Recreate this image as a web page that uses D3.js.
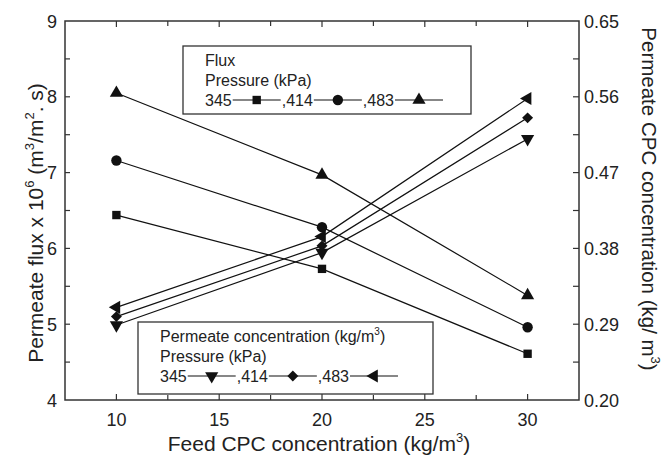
<!DOCTYPE html>
<html><head><meta charset="utf-8">
<script src="https://cdn.jsdelivr.net/npm/d3@7"></script>
<style>body{margin:0;background:#fff}svg{display:block;font-family:"Liberation Sans",Arial,sans-serif}</style>
</head><body><svg id="c" width="666" height="456"></svg>
<script>
const feed = [10, 20, 30];
const pressures = ["345", "414", "483"];
const flux345 = [6.44, 5.73, 4.61];
const flux414 = [7.16, 6.28, 4.96];
const flux483 = [8.05, 6.97, 5.38];
const conc345 = [0.289, 0.375, 0.510];
const conc414 = [0.299, 0.383, 0.535];
const conc483 = [0.310, 0.394, 0.558];
const xTicks = [10, 15, 20, 25, 30];
const yLeftTicks = [4, 5, 6, 7, 8, 9];
const yRightTicks = [0.20, 0.29, 0.38, 0.47, 0.56, 0.65];

const svg = d3.select("#c");
const L = 65, R = 579, T = 21, B = 400;
const x = d3.scaleLinear().domain([7.5, 32.5]).range([L, R]);
const yL = d3.scaleLinear().domain([4, 9]).range([B, T]);
const yR = d3.scaleLinear().domain([0.20, 0.65]).range([B, T]);
const ink = "#111";

// ticks
const g = svg.append("g").attr("stroke", "#333").attr("stroke-width", 1.2);
d3.range(10, 31, 2.5).forEach(v => {
  const len = xTicks.includes(v) ? 6 : 5;
  g.append("line").attr("x1", x(v)).attr("x2", x(v)).attr("y1", B).attr("y2", B - len);
  g.append("line").attr("x1", x(v)).attr("x2", x(v)).attr("y1", T).attr("y2", T + len);
});
d3.range(4.5, 9, 0.5).forEach(v => {
  g.append("line").attr("x1", L).attr("x2", L + 5).attr("y1", yL(v)).attr("y2", yL(v));
});
for (let i = 1; i < 10; i++) {
  const v = 0.20 + i * 0.045;
  g.append("line").attr("x1", R).attr("x2", R - 6).attr("y1", yR(v)).attr("y2", yR(v));
}
svg.append("rect").attr("x", L).attr("y", T).attr("width", R - L).attr("height", B - T)
  .attr("fill", "none").attr("stroke", "#333").attr("stroke-width", 1.5);

// tick labels
const tl = svg.append("g").attr("font-size", 18).attr("fill", "#222");
xTicks.forEach(v => tl.append("text").attr("x", x(v)).attr("y", B + 26).attr("text-anchor", "middle").text(v));
yLeftTicks.forEach(v => tl.append("text").attr("x", 57).attr("y", yL(v) + 6.5).attr("text-anchor", "end").text(v));
yRightTicks.forEach(v => tl.append("text").attr("x", 584).attr("y", yR(v) + 6.5).text(v.toFixed(2)));

// axis titles
const xt = svg.append("text").attr("x", 319).attr("y", 451).attr("font-size", 21).attr("text-anchor", "middle").attr("fill", "#222");
xt.append("tspan").text("Feed CPC concentration (kg/m");
xt.append("tspan").attr("dy", -9).attr("font-size", 13).text("3");
xt.append("tspan").attr("dy", 9).text(")");

const lt = svg.append("text").attr("transform", "translate(43,223) rotate(-90)").attr("font-size", 21).attr("text-anchor", "middle").attr("fill", "#222");
lt.append("tspan").text("Permeate flux x 10");
lt.append("tspan").attr("dy", -9).attr("font-size", 13).text("6");
lt.append("tspan").attr("dy", 9).text(" (m");
lt.append("tspan").attr("dy", -9).attr("font-size", 13).text("3");
lt.append("tspan").attr("dy", 9).text("/m");
lt.append("tspan").attr("dy", -9).attr("font-size", 13).text("2");
lt.append("tspan").attr("dy", 9).text(". s)");

const rt = svg.append("text").attr("transform", "translate(642,199) rotate(90)").attr("font-size", 20.5).attr("text-anchor", "middle").attr("fill", "#222");
rt.append("tspan").text("Permeate CPC concentration (kg/ m");
rt.append("tspan").attr("dy", -9).attr("font-size", 13).text("3");
rt.append("tspan").attr("dy", 9).text(")");

// markers
function marker(sel, type, cx, cy) {
  let sym, size, rot = 0;
  if (type === "square") { sym = d3.symbolSquare; size = 70; }
  else if (type === "circle") { sym = d3.symbolCircle; size = 85; }
  else if (type === "up") { sym = d3.symbolTriangle; size = 75; }
  else if (type === "down") { sym = d3.symbolTriangle; size = 75; rot = 180; }
  else if (type === "left") { sym = d3.symbolTriangle; size = 75; rot = -90; }
  else if (type === "diamond") { sym = d3.symbolSquare; size = 60; rot = 45; }
  sel.append("path").attr("d", d3.symbol().type(sym).size(size)())
    .attr("transform", `translate(${cx},${cy}) rotate(${rot})`).attr("fill", ink);
}

const series = [
  {vals: flux345, y: yL, m: "square"},
  {vals: flux414, y: yL, m: "circle"},
  {vals: flux483, y: yL, m: "up"},
  {vals: conc345, y: yR, m: "down"},
  {vals: conc414, y: yR, m: "diamond"},
  {vals: conc483, y: yR, m: "left"}
];
const line = svg.append("g");
series.forEach(s => {
  line.append("path").attr("d", d3.line().x((d, i) => x(feed[i])).y(d => s.y(d))(s.vals))
    .attr("fill", "none").attr("stroke", ink).attr("stroke-width", 1.2);
});
series.forEach(s => s.vals.forEach((v, i) => marker(line, s.m, x(feed[i]), s.y(v))));

// legends
function legend(bx, by, bw, bh, title, marks, sup, lens) {
  const lg = svg.append("g");
  lg.append("rect").attr("x", bx).attr("y", by).attr("width", bw).attr("height", bh)
    .attr("fill", "#fff").attr("stroke", "#333").attr("stroke-width", 1.3);
  const tx = bx + 22;
  const t1 = lg.append("text").attr("x", tx).attr("y", by + 20).attr("font-size", 16).attr("fill", "#222");
  t1.append("tspan").text(title);
  if (sup) {
    t1.append("tspan").attr("dy", -7).attr("font-size", 10).text("3");
    t1.append("tspan").attr("dy", 7).text(")");
  }
  lg.append("text").attr("x", tx).attr("y", by + 40).attr("font-size", 16).attr("fill", "#222").text("Pressure (kPa)");
  let cx = tx;
  const ly = by + 60;
  pressures.forEach((p, i) => {
    const lab = (i === 0 ? "" : ",") + p;
    const t = lg.append("text").attr("x", cx).attr("y", ly).attr("font-size", 16).attr("fill", "#222").text(lab);
    const w = t.node().getComputedTextLength();
    cx += w + 1;
    const len = lens[i];
    lg.append("line").attr("x1", cx).attr("x2", cx + len).attr("y1", ly - 6).attr("y2", ly - 6)
      .attr("stroke", ink).attr("stroke-width", 1.2);
    marker(lg, marks[i], cx + len / 2, ly - 6);
    cx += len + 1;
  });
}
legend(183, 46, 288, 68, "Flux", ["square", "circle", "up"], false, [48, 48, 48]);
legend(138, 322, 295, 72, "Permeate concentration (kg/m", ["down", "diamond", "left"], true, [48, 48, 48]);
</script></body></html>
